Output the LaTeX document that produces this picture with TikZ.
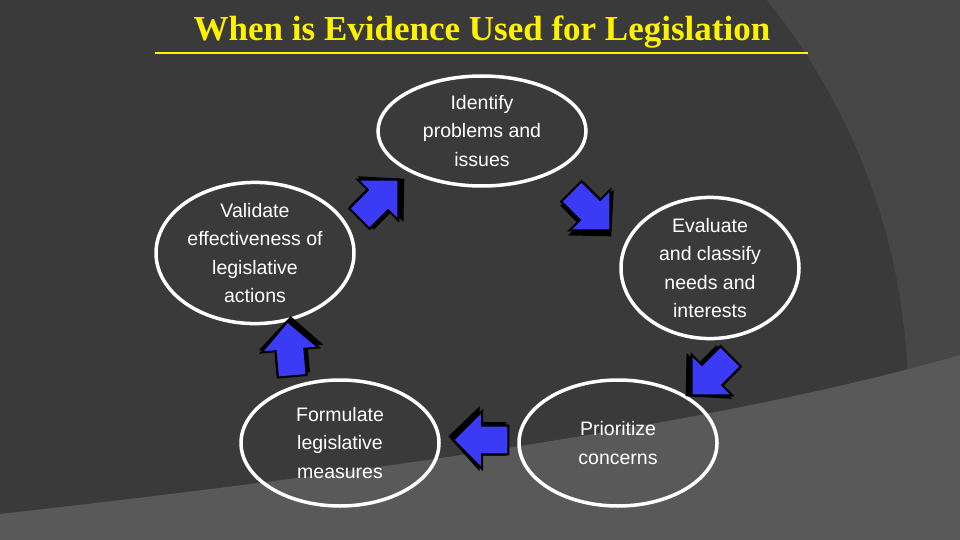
\documentclass[tikz,border=0pt]{standalone}
\usepackage{fontspec}
\setmainfont{Liberation Sans}
\newfontfamily\titlefont{Liberation Serif}
\usetikzlibrary{shapes.geometric}
\definecolor{bgdark}{HTML}{3A3A3A}
\definecolor{bgmid}{HTML}{474747}
\definecolor{bglight}{HTML}{595959}
\definecolor{arrblue}{HTML}{3B3BF5}
\tikzset{
  x=1pt,y=-1pt,
  stage/.style={ellipse,draw=white,line width=3.5pt,text=white,align=center,font=\fontsize{19.5}{28.5}\selectfont,inner sep=0pt},
  blockarrow/.style={fill=arrblue,draw=black,line width=2pt,line join=miter},
}
\newcommand{\blockarr}[3]{% center x,y ; angle
  \begin{scope}[shift={(#1,#2)},rotate=#3,scale=1.2]
    \fill[black] (-20,-13)--(2,-13)--(2,-26)--(28,3)--(2,28)--(2,15)--(-20,15)--cycle;
    \draw[blockarrow] (-22,-12)--(0,-12)--(0,-24)--(24,0)--(0,24)--(0,12)--(-22,12)--cycle;
  \end{scope}}
\begin{document}
\begin{tikzpicture}
\useasboundingbox (0,0) rectangle (960,540);
\fill[bgmid] (0,0) rectangle (960,540);
\fill[bgdark] (272,400) circle[radius=636];
\fill[bglight] (0,514) .. controls (300,480) and (700,430) .. (960,355) -- (960,540) -- (0,540) -- cycle;
\node[font=\titlefont\bfseries\fontsize{35}{40}\selectfont,text=yellow] (title) at (482,32) {When is Evidence Used for Legislation};
\draw[yellow,line width=1.5pt] (155,53) -- (808,53);
\node[stage,minimum width=208,minimum height=110] (a) at (482,131) {Identify\\problems and\\issues};
\node[stage,minimum width=178,minimum height=124] (b) at (710,268) {Evaluate\\and classify\\needs and\\interests};
\node[stage,minimum width=198,minimum height=126] (c) at (618,443) {Prioritize\\concerns};
\node[stage,minimum width=198,minimum height=126] (d) at (340,443) {Formulate\\legislative\\measures};
\node[stage,minimum width=198,minimum height=120] (e) at (255,253) {Validate\\effectiveness of\\legislative\\actions};
\blockarr{378}{200}{45}
\blockarr{590}{210}{-45}
\blockarr{712}{375}{-135}
\blockarr{482}{440}{180}
\blockarr{290}{350}{95}
\end{tikzpicture}
\end{document}
